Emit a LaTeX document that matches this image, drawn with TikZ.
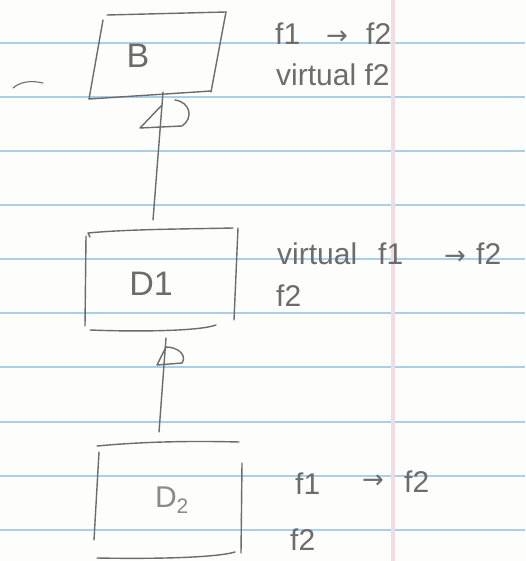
\documentclass[tikz,border=0pt]{standalone}
\usepackage{fontspec}
\setmainfont{Liberation Sans}
\newfontfamily\symfont{DejaVu Sans}
\definecolor{paper}{HTML}{FDFDFC}
\definecolor{rule}{HTML}{A9D0E8}
\definecolor{margin}{HTML}{F3DCE0}
\definecolor{pencil}{HTML}{6C6C6C}
\definecolor{softpencil}{HTML}{8A8A8A}
\tikzset{
  pen/.style={draw=pencil, line width=1.4pt, line cap=round, line join=round},
  lbl/.style={text=pencil, inner sep=0pt, anchor=base west, font=\fontsize{30}{30}\selectfont},
  arr/.style={text=pencil, inner sep=0pt, anchor=base west, font=\symfont\fontsize{26}{26}\selectfont},
  classname/.style={text=pencil, inner sep=0pt, font=\fontsize{34}{34}\selectfont}
}
\begin{document}
\begin{tikzpicture}[x=1pt, y=-1pt]
  % sheet of ruled paper
  \fill[paper] (0,0) rectangle (525,561);
  \useasboundingbox (0,0) rectangle (525,561);
  \foreach \yy in {43,97,151,205,259,313,367,422,476,530}
    \draw[rule, line width=1.6pt] (0,\yy) -- (525,\yy);
  \draw[margin, line width=4pt] (393,0) -- (393,561);

  % stray mark at the left
  \draw[pen, line width=1.1pt] (13,88) .. controls (20,82) and (30,80) .. (43,83);

  % --- class B ---
  \node[classname] (B) at (138,56) {B};
  \draw[pen] (107,15) -- (226,12);
  \draw[pen] (103,20) -- (89,99);
  \draw[pen] (89,99) -- (211,91);
  \draw[pen] (226,12) -- (211,92);
  \coordinate (Bbot) at (163,92);

  % --- class D1 ---
  \node[classname] (D1) at (151,284) {D1};
  \draw[pen] (90,237) -- (88,233) .. controls (130,229) and (190,229) .. (233,228);
  \draw[pen] (86,236) -- (85,326);
  \draw[pen] (238,228) -- (234,320);
  \draw[pen] (90,330) .. controls (140,332) and (200,331) .. (216,325);
  \coordinate (D1top) at (153,220);
  \coordinate (D1bot) at (166,338);

  % --- class D2 ---
  \node[classname, text=softpencil, font=\fontsize{30}{30}\selectfont] (D2) at (172,500) {D\textsubscript{2}};
  \draw[pen] (97,446) .. controls (150,441) and (200,441) .. (239,442);
  \draw[pen] (99,452) -- (94,540);
  \draw[pen] (242,463) -- (241,553);
  \draw[pen] (97,558) .. controls (150,559) and (215,558) .. (235,552);
  \coordinate (D2top) at (159,432);

  % --- inheritance connectors with open heads ---
  \draw[pen] (D1top) -- (Bbot);
  \draw[pen] (162,105) -- (140,128) -- (182,126)
             .. controls (194,118) and (190,102) .. (175,100);
  \draw[pen] (D2top) -- (D1bot);
  \draw[pen] (166,347) -- (157,365) -- (182,363)
             .. controls (187,356) and (179,347) .. (166,347);

  % --- member lists ---
  \node[lbl] (bf1)  at (275,45) {f1};
  \node[arr] (ba)   at (326,45) {→};
  \node[lbl] (bf2)  at (366,45) {f2};
  \node[lbl] (bvf2) at (276,86) {virtual f2};

  \node[lbl] (d1v)  at (277,264) {virtual};
  \node[lbl] (d1f1) at (378,264) {f1};
  \node[arr] (d1a)  at (444,264) {→};
  \node[lbl] (d1f2) at (476,264) {f2};
  \node[lbl] (d1g2) at (276,306) {f2};

  \node[lbl] (d2f1) at (295,494) {f1};
  \node[arr] (d2a)  at (362,488) {→};
  \node[lbl] (d2f2) at (404,492) {f2};
  \node[lbl] (d2g2) at (290,550) {f2};
\end{tikzpicture}
\end{document}
